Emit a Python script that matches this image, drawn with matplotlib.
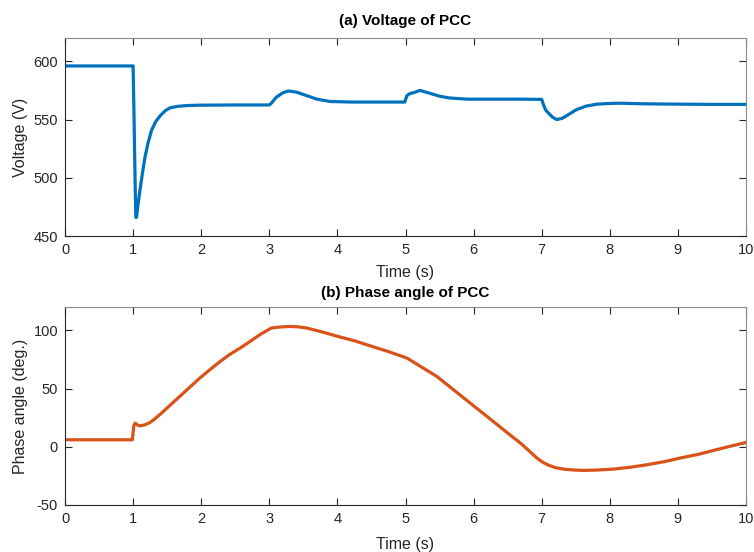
import matplotlib
matplotlib.use("Agg")
import matplotlib.pyplot as plt

plt.rcParams['font.family'] = ['Liberation Sans', 'DejaVu Sans']
plt.rcParams['axes.unicode_minus'] = False

# (a) Voltage of PCC
t_v = [0.0, 0.99, 1.0, 1.01, 1.02, 1.03, 1.04, 1.05, 1.07, 1.10, 1.14, 1.175, 1.22, 1.27,
       1.33, 1.40, 1.47, 1.54, 1.65, 1.79, 1.96, 2.5, 3.0, 3.03, 3.10, 3.20, 3.28, 3.40,
       3.55, 3.70, 3.89, 4.2, 4.6, 4.99, 5.02, 5.07, 5.12, 5.21, 5.36, 5.50, 5.65, 5.9,
       6.3, 6.7, 7.0, 7.03, 7.06, 7.10, 7.16, 7.22, 7.30, 7.40, 7.51, 7.65, 7.81, 8.0,
       8.15, 8.5, 9.0, 9.5, 10.0]
v_pcc = [596, 596, 596, 565, 530, 495, 466, 466, 476, 489, 505, 517.8, 530, 540.6,
         548, 553.4, 557.5, 560, 561.3, 562, 562.3, 562.5, 562.5, 564, 569, 573, 574.5, 573.5,
         570.5, 567.5, 565.5, 565, 565, 565, 570.5, 572.5, 573, 575, 572.5, 570, 568.5, 567.5,
         567.5, 567.5, 567.3, 562, 558, 555.5, 552, 550, 551, 554.5, 558.5, 561.5, 563.2, 563.8,
         564, 563.5, 563.2, 563, 563]

# (b) Phase angle of PCC
t_p = [0.0, 0.99, 1.01, 1.03, 1.06, 1.10, 1.17, 1.25, 1.32, 1.40, 1.55, 1.69, 1.83, 1.98,
       2.13, 2.28, 2.42, 2.57, 2.72, 2.86, 2.95, 3.03, 3.15, 3.30, 3.42, 3.55, 3.75,
       4.01, 4.25, 4.48, 4.75, 5.02, 5.22, 5.46, 5.70, 5.95, 6.20, 6.44, 6.70, 6.93, 7.02,
       7.10, 7.20, 7.32, 7.45, 7.61, 7.80, 8.05, 8.30, 8.54, 8.80, 9.03, 9.30, 9.52,
       9.75, 10.0]
phase = [6, 6, 18, 20.3, 18.8, 18, 18.8, 20.9, 24, 28, 36, 43.5, 51, 59,
         66.3, 73.3, 79.3, 84.7, 90.5, 96.2, 99.3, 101.9, 102.8, 103.3, 103, 101.9, 99,
         94.7, 91, 86.7, 81.7, 76.2, 69, 60.4, 49.2, 37.5, 25.9, 14.6, 2.6, -9.7, -13.5,
         -15.8, -17.9, -19.2, -19.9, -20.3, -20, -19.2, -17.6, -15.5, -12.8, -9.7, -6.5, -3.2,
         0.2, 3.7]

x_ticks = list(range(0, 11))
v_ticks = [450, 500, 550, 600]
p_ticks = [-50, 0, 50, 100]

W, H = 754, 552
fig = plt.figure(figsize=(W / 100, H / 100), dpi=100)
fig.patch.set_facecolor('white')

ax1 = fig.add_axes([65 / W, 1 - 236 / H, 681 / W, 198 / H])
ax2 = fig.add_axes([65 / W, 1 - 505 / H, 681 / W, 198 / H])

ax1.plot(t_v, v_pcc, color='#0072BD', lw=2.3, solid_joinstyle='round')
ax2.plot(t_p, phase, color='#D95319', lw=2.3, solid_joinstyle='round')

for ax, yt, ylim, title, ylabel, tpad, xlp in [
        (ax1, v_ticks, (450, 620), '(a) Voltage of PCC', 'Voltage (V)', 9, 6),
        (ax2, p_ticks, (-50, 120), '(b) Phase angle of PCC', 'Phase angle (deg.)', 7, 8)]:
    ax.set_xlim(0, 10)
    ax.set_ylim(*ylim)
    ax.set_xticks(x_ticks)
    ax.set_yticks(yt)
    ax.tick_params(direction='in', top=True, right=True, length=5, width=0.8,
                   colors='#262626', labelsize=10.5, labelcolor='#262626', pad=5)
    for s in ['left', 'bottom']:
        ax.spines[s].set_color('#262626')
        ax.spines[s].set_linewidth(0.8)
    for s in ['top', 'right']:
        ax.spines[s].set_color('#8a8a8a')
        ax.spines[s].set_linewidth(0.8)
    ax.set_title(title, fontsize=11, fontweight='bold', color='black', pad=tpad)
    ax.set_xlabel('Time (s)', fontsize=11.5, color='#262626', labelpad=xlp)
    ax.set_ylabel(ylabel, fontsize=11.5, color='#262626', labelpad=4)

fig.savefig('out.png', dpi=100)
